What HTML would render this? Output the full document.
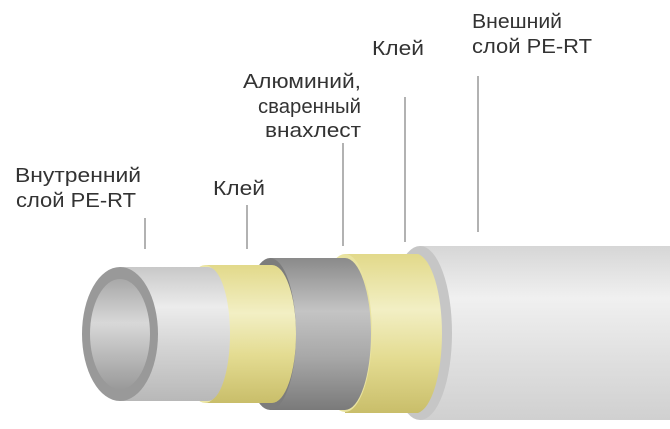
<!DOCTYPE html>
<html><head><meta charset="utf-8"><style>
html,body{margin:0;padding:0;background:#fff;width:670px;height:429px;overflow:hidden}
text{font-family:"Liberation Sans","DejaVu Sans",sans-serif;font-size:20px;fill:#333}
</style></head><body>
<svg width="670" height="429" viewBox="0 0 670 429" xmlns="http://www.w3.org/2000/svg">
<defs>
<linearGradient id="gw" x1="0" y1="0" x2="0" y2="1">
<stop offset="0" stop-color="#d6d6d6"/><stop offset="0.3" stop-color="#f0f0f0"/><stop offset="0.6" stop-color="#e2e2e2"/><stop offset="1" stop-color="#d0d0d0"/></linearGradient>
<linearGradient id="gi" x1="0" y1="0" x2="0" y2="1">
<stop offset="0" stop-color="#c8c8c8"/><stop offset="0.3" stop-color="#ececec"/><stop offset="0.6" stop-color="#d4d4d4"/><stop offset="1" stop-color="#b8b8b8"/></linearGradient>
<linearGradient id="gy" x1="0" y1="0" x2="0" y2="1">
<stop offset="0" stop-color="#e2d98a"/><stop offset="0.35" stop-color="#f2efc4"/><stop offset="0.65" stop-color="#e4dc92"/><stop offset="1" stop-color="#c9be6a"/></linearGradient>
<linearGradient id="gg" x1="0" y1="0" x2="0" y2="1">
<stop offset="0" stop-color="#8a8a8a"/><stop offset="0.35" stop-color="#c4c4c4"/><stop offset="0.65" stop-color="#a8a8a8"/><stop offset="1" stop-color="#7a7a7a"/></linearGradient>
<linearGradient id="gh" x1="0" y1="0" x2="0" y2="1">
<stop offset="0" stop-color="#a8a8a8"/><stop offset="0.4" stop-color="#d8d8d8"/><stop offset="1" stop-color="#9a9a9a"/></linearGradient>
</defs>
<g stroke="#999" stroke-width="1.5">
<line x1="145" y1="218" x2="145" y2="249"/>
<line x1="247" y1="205" x2="247" y2="249"/>
<line x1="343" y1="143" x2="343" y2="246"/>
<line x1="405" y1="97" x2="405" y2="242"/>
<line x1="478" y1="76" x2="478" y2="232"/>
</g>
<path d="M420,246 H670 V420 H420 Z" fill="url(#gw)"/>
<ellipse cx="420" cy="333" rx="32" ry="87" fill="#c6c6c6"/>
<path d="M345,254 H418 A27,80 0 0 1 418,413 H345 Z" fill="url(#gy)"/>
<ellipse cx="345" cy="333" rx="27" ry="79" fill="#e9e3a0"/>
<path d="M270,258 H345 A26,76 0 0 1 345,410 H270 Z" fill="url(#gg)"/>
<ellipse cx="270" cy="334" rx="26" ry="76" fill="#7c7c7c"/>
<path d="M205,265 H272 A24,69 0 0 1 272,403 H205 Z" fill="url(#gy)"/>
<ellipse cx="205" cy="334" rx="24" ry="69" fill="#ece6a6"/>
<path d="M120,267 H208 A22,67 0 0 1 208,401 H120 Z" fill="url(#gi)"/>
<ellipse cx="120" cy="334" rx="38" ry="67" fill="#999"/>
<ellipse cx="120" cy="334" rx="30" ry="55" fill="url(#gh)"/>
<text x="15" y="182" textLength="126" lengthAdjust="spacingAndGlyphs">Внутренний</text>
<text x="16" y="207" textLength="120" lengthAdjust="spacingAndGlyphs">слой PE-RT</text>
<text x="213" y="195" textLength="52" lengthAdjust="spacingAndGlyphs">Клей</text>
<text x="243" y="88" textLength="118" lengthAdjust="spacingAndGlyphs">Алюминий,</text>
<text x="258" y="113" textLength="103" lengthAdjust="spacingAndGlyphs">сваренный</text>
<text x="265" y="137" textLength="96" lengthAdjust="spacingAndGlyphs">внахлест</text>
<text x="372" y="55" textLength="52" lengthAdjust="spacingAndGlyphs">Клей</text>
<text x="472" y="28" textLength="90" lengthAdjust="spacingAndGlyphs">Внешний</text>
<text x="472" y="53" textLength="120" lengthAdjust="spacingAndGlyphs">слой PE-RT</text>
</svg>
</body></html>
